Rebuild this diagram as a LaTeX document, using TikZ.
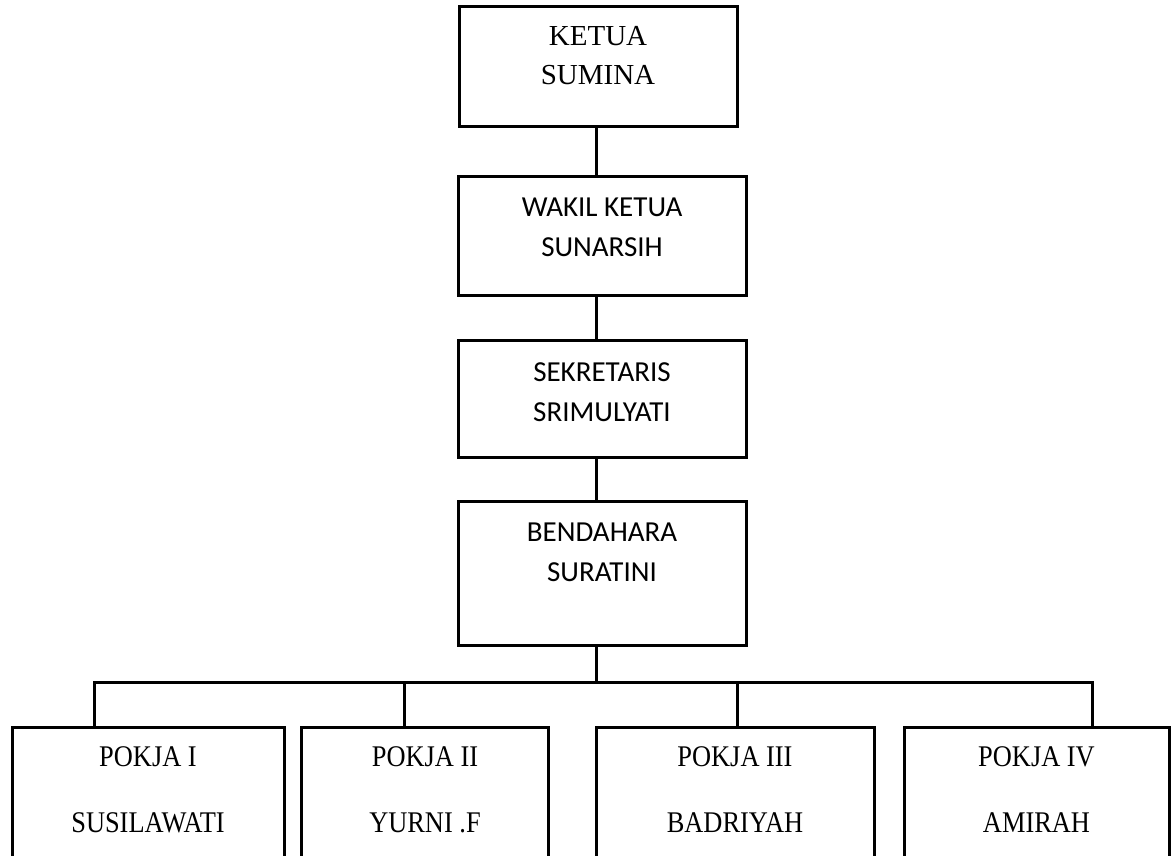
\documentclass[tikz,border=0pt]{standalone}
\usepackage{fontspec}
\setmainfont{Liberation Serif}
\newfontfamily\calfont{Carlito}
\newfontfamily\camfont[FakeStretch=0.88]{Liberation Serif}
\begin{document}
\begin{tikzpicture}[x=1pt,y=-1pt,
  box/.style={draw=black,line width=3pt,rectangle,inner sep=0pt,fill=white},
  conn/.style={draw=black,line width=3pt},
  ttl/.style={align=center,inner sep=0pt,font=\fontsize{29}{39}\selectfont},
  cal/.style={align=center,inner sep=0pt,font=\calfont\fontsize{29}{40}\selectfont},
  cam/.style={align=center,inner sep=0pt,font=\camfont\fontsize{30}{66}\selectfont}]
\clip (0,0) rectangle (1172,856);
\fill[white] (0,0) rectangle (1172,856);
\coordinate (spine) at (596,0);
\coordinate (d1) at (94,682);
\coordinate (d2) at (404,682);
\coordinate (d3) at (737,682);
\coordinate (d4) at (1092,682);
% top column
\node[box,minimum width=278pt,minimum height=120pt] (ketua) at (598,67) {};
\node[ttl] (ketuaT) at (598,55.5) {KETUA\\SUMINA};
\node[box,minimum width=288pt,minimum height=119pt] (wakil) at (602,235.5) {};
\node[cal] (wakilT) at (602,227) {WAKIL KETUA\\SUNARSIH};
\node[box,minimum width=288pt,minimum height=117pt] (sekr) at (602,398.5) {};
\node[cal] (sekrT) at (602,392.5) {SEKRETARIS\\SRIMULYATI};
\node[box,minimum width=288pt,minimum height=144pt] (bend) at (602,573) {};
\node[cal] (bendT) at (602,552.5) {BENDAHARA\\SURATINI};
% bottom row
\node[box,minimum width=272pt,minimum height=130.5pt,anchor=north] (p1) at (148,726) {};
\node[cam] (p1T) at (148,789.5) {POKJA I\\SUSILAWATI};
\node[box,minimum width=247pt,minimum height=130.5pt,anchor=north] (p2) at (425,726) {};
\node[cam] (p2T) at (425,789.5) {POKJA II\\YURNI .F};
\node[box,minimum width=278pt,minimum height=130.5pt,anchor=north] (p3) at (735,726) {};
\node[cam] (p3T) at (735,789.5) {POKJA III\\BADRIYAH};
\node[box,minimum width=265pt,minimum height=130.5pt,anchor=north] (p4) at (1036.5,726) {};
\node[cam] (p4T) at (1036.5,789.5) {POKJA IV\\AMIRAH};
% connectors
\draw[conn] (spine |- ketua.south) -- (spine |- wakil.north);
\draw[conn] (spine |- wakil.south) -- (spine |- sekr.north);
\draw[conn] (spine |- sekr.south) -- (spine |- bend.north);
\draw[conn] (spine |- bend.south) -- (spine |- d1);
\draw[conn] (d1 |- p1.north) -- (d1) -- (d4) -- (d4 |- p4.north);
\draw[conn] (d2) -- (d2 |- p2.north);
\draw[conn] (d3) -- (d3 |- p3.north);
\end{tikzpicture}
\end{document}
